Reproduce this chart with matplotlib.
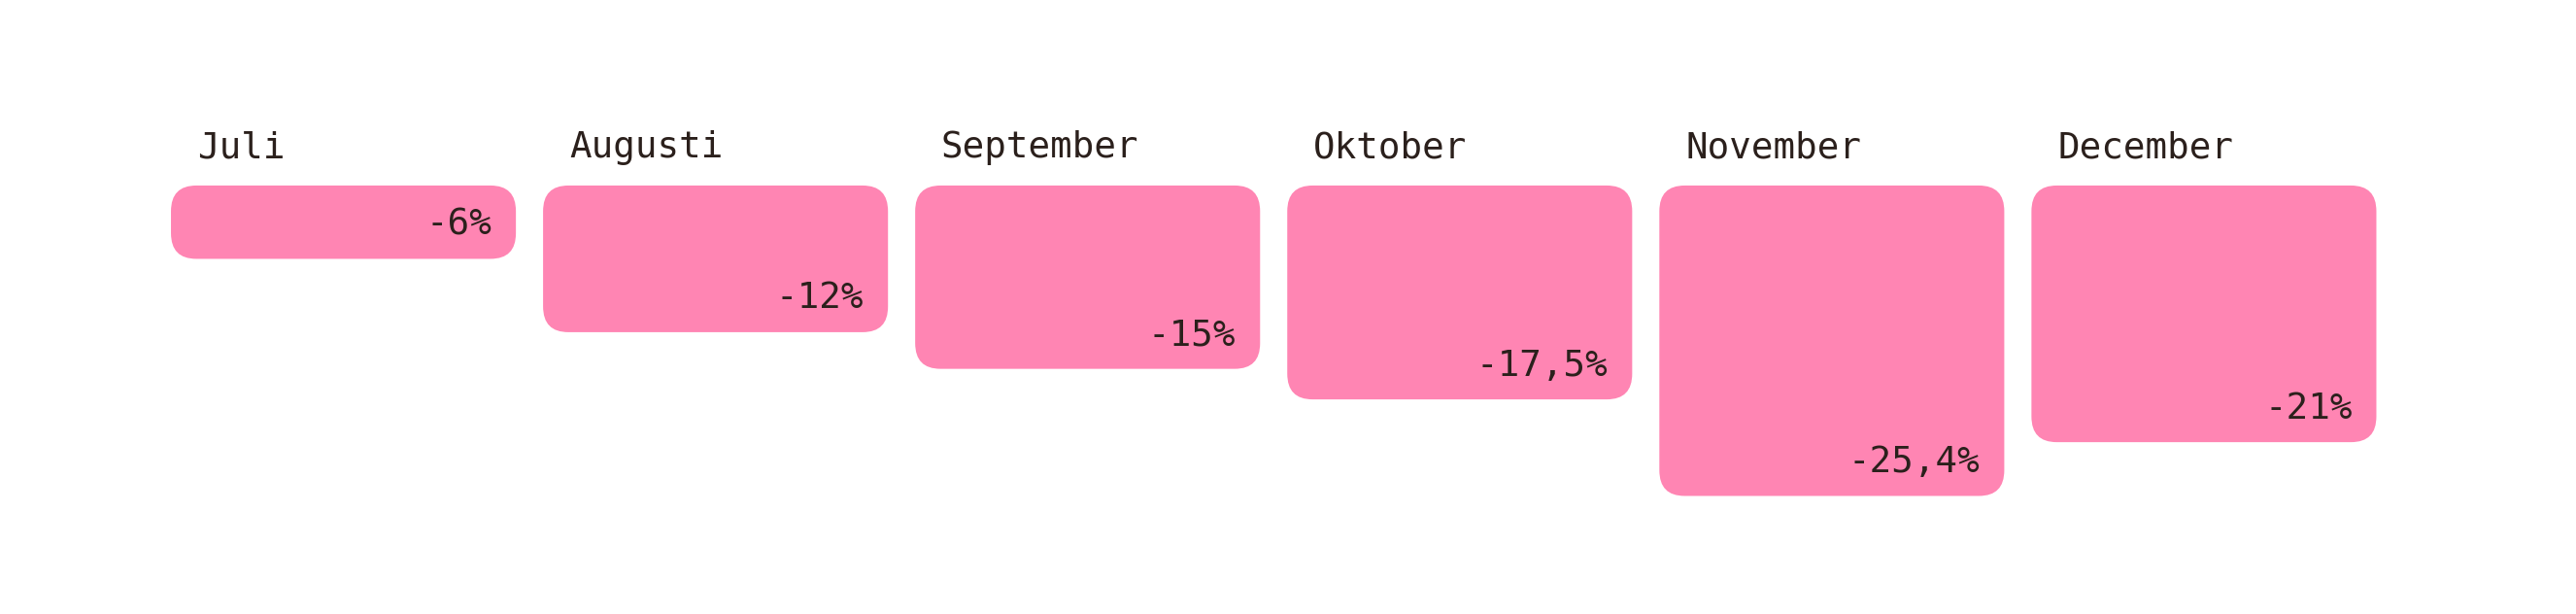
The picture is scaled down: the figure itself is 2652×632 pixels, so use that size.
import matplotlib.pyplot as plt
from matplotlib.patches import FancyBboxPatch

months = ["Juli", "Augusti", "September", "Oktober", "November", "December"]
change = [-6, -12, -15, -17.5, -25.4, -21]
value_labels = ["-6%", "-12%", "-15%", "-17,5%", "-25,4%", "-21%"]

pink = "#ff85b3"
ink = "#2b201c"

fig = plt.figure(figsize=(26.52, 6.32), dpi=100)
ax = fig.add_axes([0, 0, 1, 1])
ax.set_xlim(-0.923, 6.0)
ax.set_ylim(-35.06, 15.18)
ax.axis("off")

w = 0.927
rx = 0.068   # corner radius in x units
ry = 2.1     # corner radius in y units (percent)

for i, (m, v, lab) in enumerate(zip(months, change, value_labels)):
    box = FancyBboxPatch((i - w / 2, v), w, -v,
                         boxstyle=f"round,pad=0,rounding_size={rx}",
                         mutation_aspect=ry / rx,
                         facecolor=pink, edgecolor="none")
    ax.add_patch(box)
    ax.text(i - w / 2 + 0.07, 2.3, m, ha="left", va="baseline",
            fontsize=27, family="DejaVu Sans Mono", color=ink)
    ax.text(i + w / 2 - 0.065, v + 1.95, lab, ha="right", va="baseline",
            fontsize=27, family="DejaVu Sans Mono", color=ink)

fig.savefig("out.png", dpi=100)
